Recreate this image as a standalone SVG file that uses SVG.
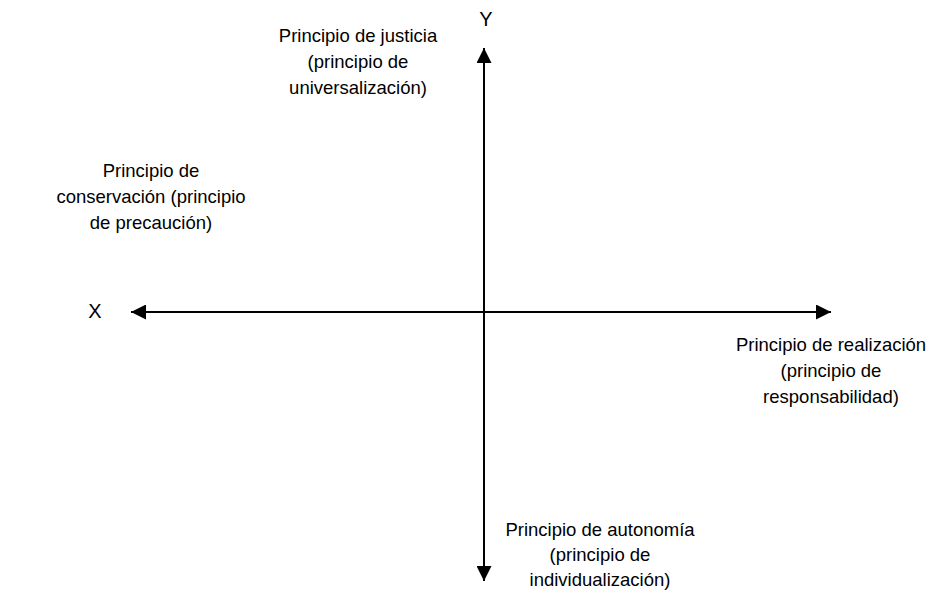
<svg xmlns="http://www.w3.org/2000/svg" width="933" height="596" viewBox="0 0 933 596">
<style>
text{font-family:"Liberation Sans",Arial,sans-serif;fill:#000;text-anchor:middle}
.lbl{font-size:18.5px}
.ax{font-size:20px}
.axis{stroke:#000;stroke-width:2;fill:none}
</style>
<defs>
<marker id="ah" viewBox="0 0 10 10" refX="10" refY="5" markerWidth="7.5" markerHeight="7.5" orient="auto-start-reverse" markerUnits="strokeWidth">
<path d="M0,0 L10,5 L0,10 z" fill="#000"/>
</marker>
</defs>
<rect width="933" height="596" fill="#fff"/>
<g id="connectors">
<line class="axis" x1="484" y1="48" x2="484" y2="581" marker-start="url(#ah)" marker-end="url(#ah)"/>
<line class="axis" x1="131" y1="312" x2="831" y2="312" marker-start="url(#ah)" marker-end="url(#ah)"/>
</g>
<g id="axis-y"><text class="ax" x="486" y="26">Y</text></g>
<g id="axis-x"><text class="ax" x="95" y="318">X</text></g>
<g id="justicia"><text class="lbl" x="358" y="42">Principio de justicia</text><text class="lbl" x="358" y="68">(principio de</text><text class="lbl" x="358" y="94">universalización)</text></g>
<g id="conservacion"><text class="lbl" x="151" y="177">Principio de</text><text class="lbl" x="151" y="203">conservación (principio</text><text class="lbl" x="151" y="229">de precaución)</text></g>
<g id="realizacion"><text class="lbl" x="831" y="351">Principio de realización</text><text class="lbl" x="831" y="377">(principio de</text><text class="lbl" x="831" y="403">responsabilidad)</text></g>
<g id="autonomia"><text class="lbl" x="600" y="536">Principio de autonomía</text><text class="lbl" x="600" y="561">(principio de</text><text class="lbl" x="600" y="586">individualización)</text></g>
</svg>
